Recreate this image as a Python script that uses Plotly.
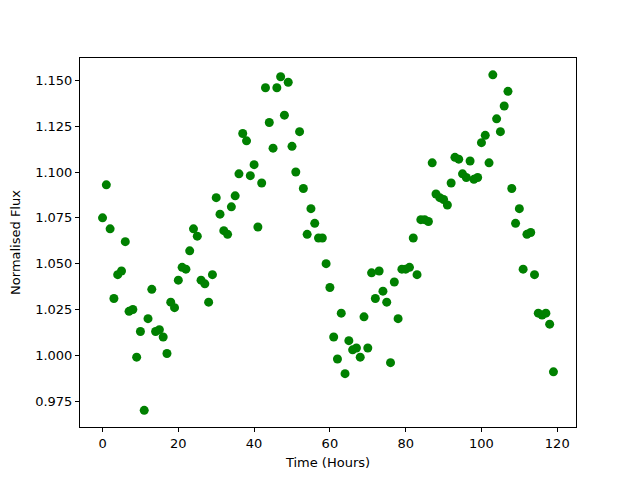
import plotly.graph_objects as go

time_hours = list(range(120))
flux = [
    1.075, 1.093, 1.069, 1.031, 1.044, 1.046, 1.062, 1.024, 1.025, 0.999,
    1.013, 0.970, 1.020, 1.036, 1.013, 1.014, 1.010, 1.001, 1.029, 1.026,
    1.041, 1.048, 1.047, 1.057, 1.069, 1.065, 1.041, 1.039, 1.029, 1.044,
    1.086, 1.077, 1.068, 1.066, 1.081, 1.087, 1.099, 1.121, 1.117, 1.098,
    1.104, 1.070, 1.094, 1.146, 1.127, 1.113, 1.146, 1.152, 1.131, 1.149,
    1.114, 1.100, 1.122, 1.091, 1.066, 1.080, 1.072, 1.064, 1.064, 1.050,
    1.037, 1.010, 0.998, 1.023, 0.990, 1.008, 1.003, 1.004, 0.999, 1.021,
    1.004, 1.045, 1.031, 1.046, 1.035, 1.029, 0.996, 1.040, 1.020, 1.047,
    1.047, 1.048, 1.064, 1.044, 1.074, 1.074, 1.073, 1.105, 1.088, 1.086,
    1.085, 1.082, 1.094, 1.108, 1.107, 1.099, 1.097, 1.106, 1.096, 1.097,
    1.116, 1.120, 1.105, 1.153, 1.129, 1.122, 1.136, 1.144, 1.091, 1.072,
    1.080, 1.047, 1.066, 1.067, 1.044, 1.023, 1.022, 1.023, 1.017, 0.991,
]
x_ticks = [0, 20, 40, 60, 80, 100, 120]
y_ticks = [0.975, 1.000, 1.025, 1.050, 1.075, 1.100, 1.125, 1.150]

fig = go.Figure(go.Scatter(
    x=time_hours, y=flux, mode="markers",
    marker=dict(color="#008000", size=9, line=dict(width=0)),
))

axis_common = dict(
    showgrid=False, zeroline=False, showline=True, linecolor="black", linewidth=1,
    mirror=True, ticks="outside", ticklen=4, tickcolor="black", automargin=False,
    tickfont=dict(family="DejaVu Sans", size=13, color="black"),
)
fig.update_xaxes(range=[-5.95, 124.95], tickvals=x_ticks,
                 title=dict(text="Time (Hours)", font=dict(family="DejaVu Sans", size=13, color="black"), standoff=8),
                 **axis_common)
fig.update_yaxes(range=[0.9609, 1.1622], tickvals=y_ticks,
                 ticktext=[f"{v:.3f}" for v in y_ticks],
                 title=dict(text="Normalised Flux", font=dict(family="DejaVu Sans", size=13, color="black"), standoff=11),
                 **axis_common)
fig.update_layout(
    width=640, height=480,
    margin=dict(l=72, r=72, t=50, b=61),
    plot_bgcolor="white", paper_bgcolor="white",
    showlegend=False,
)
fig.write_html("out.html")
